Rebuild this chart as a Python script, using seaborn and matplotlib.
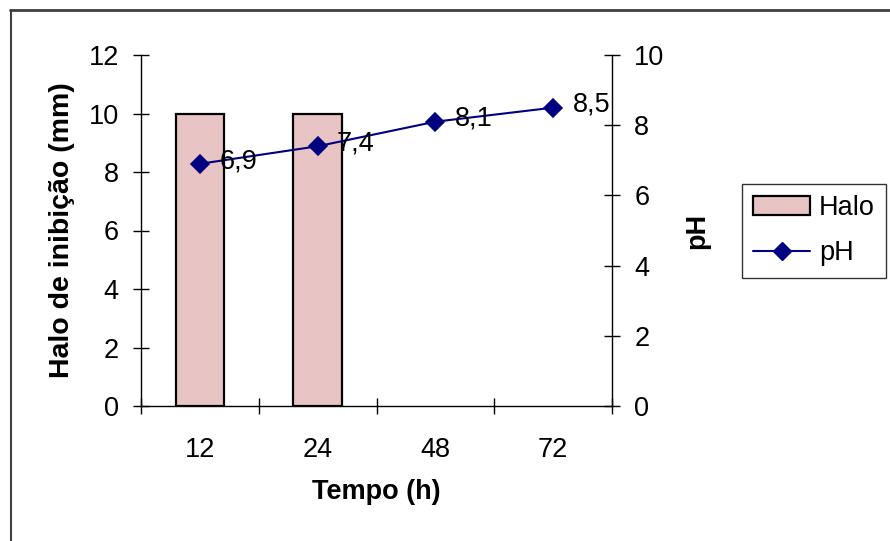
import matplotlib
matplotlib.use("Agg")
import matplotlib.pyplot as plt
import seaborn as sns
from matplotlib.patches import Patch
from matplotlib.lines import Line2D

categories = ["12", "24", "48", "72"]
halo = [10, 10, 0, 0]
ph = [6.9, 7.4, 8.1, 8.5]
ph_labels = ["6,9", "7,4", "8,1", "8,5"]

sns.set_style("white")
plt.rcParams['font.family'] = ['Liberation Sans', 'DejaVu Sans']
plt.rcParams['text.color'] = 'black'
plt.rcParams['axes.labelcolor'] = 'black'
plt.rcParams['xtick.color'] = 'black'
plt.rcParams['ytick.color'] = 'black'

BAR = "#E8C4C4"
NAVY = "#000080"
FS = 19.5

fig = plt.figure(figsize=(8.9, 5.41), dpi=100)
ax = fig.add_axes([141/890, 1-406/541, (612-141)/890, (406-55)/541])

sns.barplot(x=categories, y=halo, color=BAR, width=0.41, edgecolor="black",
            linewidth=1.6, saturation=1, ax=ax)
for p in ax.patches:
    if p.get_height() == 0:
        p.set_linewidth(0)
ax.set_ylim(0, 12)
ax.set_yticks(range(0, 13, 2))
ax.set_xlim(-0.5, 3.5)

ax2 = ax.twinx()
sns.pointplot(x=categories, y=ph, color=NAVY, markers="D", linestyles="-",
              ax=ax2, markersize=9.5, linewidth=1.5)
ax2.set_ylim(0, 10)
ax2.set_yticks(range(0, 11, 2))
ax2.set_xlim(-0.5, 3.5)
for i, (v, t) in enumerate(zip(ph, ph_labels)):
    ax2.annotate(t, (i, v), xytext=(14, 2), textcoords="offset points",
                 ha="left", va="center", fontsize=FS, color="black")

for a in (ax, ax2):
    a.spines["top"].set_visible(False)
    for s in ("left", "right", "bottom"):
        a.spines[s].set_color("black")
        a.spines[s].set_linewidth(1.0)
ax.spines["right"].set_visible(False)
ax2.spines["left"].set_visible(False)
ax2.spines["bottom"].set_visible(False)

ax.tick_params(axis="y", direction="inout", length=12, width=1, labelsize=FS, pad=10, left=True)
ax2.tick_params(axis="y", direction="inout", length=12, width=1, labelsize=FS, pad=10, right=True)
ax.set_xticks(range(4))
ax.set_xticklabels(categories)
ax.set_xticks([-0.5, 0.5, 1.5, 2.5, 3.5], minor=True)
ax.tick_params(axis="x", which="major", length=0, labelsize=FS, pad=22)
ax.tick_params(axis="x", which="minor", direction="inout", length=12, width=1, bottom=True)
ax2.set_xlabel("")
ax2.tick_params(axis="x", which="both", bottom=False, labelbottom=False)

ax.set_xlabel("Tempo (h)", fontsize=FS, fontweight="bold", labelpad=12)
ax.set_ylabel("Halo de inibição (mm)", fontsize=FS + 1, fontweight="bold", labelpad=10)
ax2.set_ylabel("pH", fontsize=FS, fontweight="bold", labelpad=14)

handles = [Patch(facecolor=BAR, edgecolor="black", linewidth=1.6),
           Line2D([0], [0], color=NAVY, marker="D", markersize=9.5, linewidth=1.5)]
leg = fig.legend(handles, ["Halo", "pH"], loc="upper left",
                 bbox_to_anchor=(742/890, 1-184/541), fontsize=FS, frameon=True,
                 fancybox=False, edgecolor="black", handlelength=2.1,
                 handletextpad=0.32, borderpad=0.42, labelspacing=0.7,
                 borderaxespad=0)
leg.get_frame().set_linewidth(1.0)

fig.add_artist(Line2D([10/890, 1], [1-9.5/541, 1-9.5/541], color="#404040", lw=2, transform=fig.transFigure))
fig.add_artist(Line2D([10.5/890, 10.5/890], [0, 1-9.5/541], color="#404040", lw=1.5, transform=fig.transFigure))

fig.savefig("out.png", dpi=100)
